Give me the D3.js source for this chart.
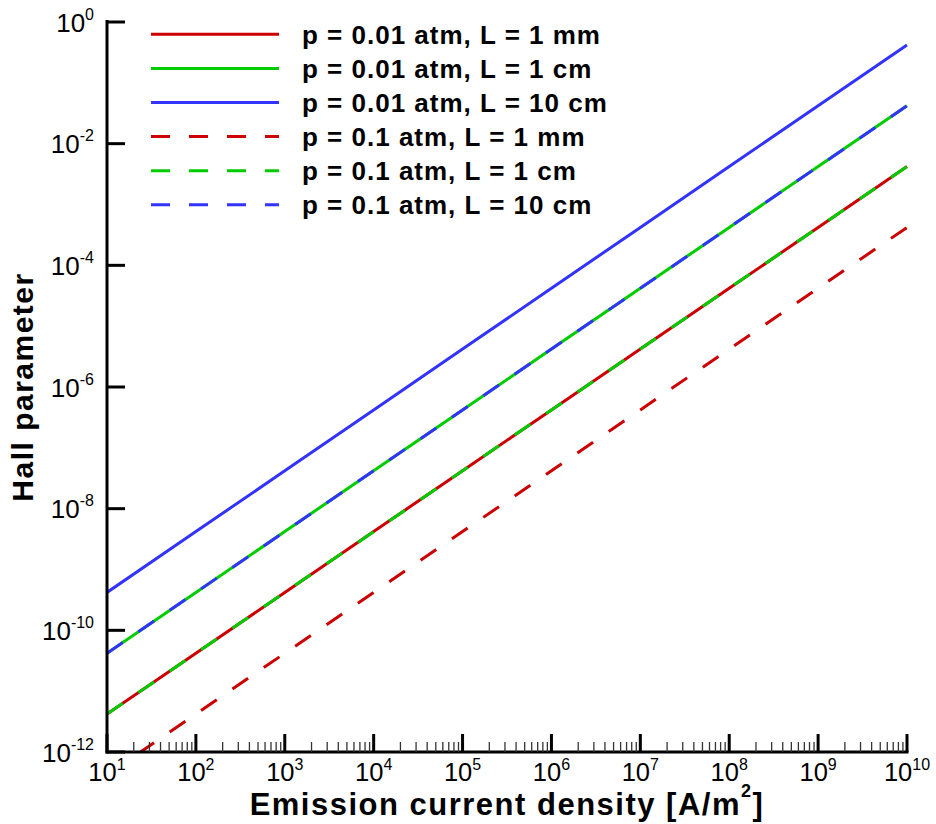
<!DOCTYPE html>
<html lang="en">

<head>
    <meta charset="UTF-8">
    <title>Hall parameter vs emission current density</title>
    <script src="https://d3js.org/d3.v7.min.js"></script>
    <style>
        body { margin: 0; background: #fff; }
        text { font-family: "Liberation Sans", Arial, Helvetica, sans-serif; fill: #000; }
    </style>
</head>

<body>
    <svg width="936" height="824"></svg>

    <script>
        // emission current density [A/m^2] at each decade
        const currentDensity = [1e1, 1e2, 1e3, 1e4, 1e5, 1e6, 1e7, 1e8, 1e9, 1e10];

        // Hall parameter
        const hallP001L1mm  = [4.2e-12, 4.2e-11, 4.2e-10, 4.2e-9, 4.2e-8, 4.2e-7, 4.2e-6, 4.2e-5, 4.2e-4, 4.2e-3];
        const hallP001L1cm  = [4.2e-11, 4.2e-10, 4.2e-9, 4.2e-8, 4.2e-7, 4.2e-6, 4.2e-5, 4.2e-4, 4.2e-3, 4.2e-2];
        const hallP001L10cm = [4.2e-10, 4.2e-9, 4.2e-8, 4.2e-7, 4.2e-6, 4.2e-5, 4.2e-4, 4.2e-3, 4.2e-2, 4.2e-1];
        const hallP01L1mm   = [4.2e-13, 4.2e-12, 4.2e-11, 4.2e-10, 4.2e-9, 4.2e-8, 4.2e-7, 4.2e-6, 4.2e-5, 4.2e-4];
        const hallP01L1cm   = [4.2e-12, 4.2e-11, 4.2e-10, 4.2e-9, 4.2e-8, 4.2e-7, 4.2e-6, 4.2e-5, 4.2e-4, 4.2e-3];
        const hallP01L10cm  = [4.2e-11, 4.2e-10, 4.2e-9, 4.2e-8, 4.2e-7, 4.2e-6, 4.2e-5, 4.2e-4, 4.2e-3, 4.2e-2];

        const seriesNames = [
            "p = 0.01 atm, L = 1 mm", "p = 0.01 atm, L = 1 cm", "p = 0.01 atm, L = 10 cm",
            "p = 0.1 atm, L = 1 mm", "p = 0.1 atm, L = 1 cm", "p = 0.1 atm, L = 10 cm"
        ];
        const seriesValues = [hallP001L1mm, hallP001L1cm, hallP001L10cm, hallP01L1mm, hallP01L1cm, hallP01L10cm];

        const xExponents = [1, 2, 3, 4, 5, 6, 7, 8, 9, 10];
        const yExponents = [0, -2, -4, -6, -8, -10, -12];

        const red = "#cc0000", green = "#00cc00", blue = "#3333ff";
        const colors = [red, green, blue, red, green, blue];
        const dashes = [null, null, null, "19,19", "19,19", "19,19"];

        const svg = d3.select("svg");
        const plotLeft = 107, plotRight = 907, plotTop = 22, plotBottom = 752;

        const x = d3.scaleLog().domain([1e1, 1e10]).range([plotLeft, plotRight]);
        const y = d3.scaleLog().domain([1e-12, 1]).range([plotBottom, plotTop]);

        svg.append("clipPath").attr("id", "plot-clip")
            .append("rect")
            .attr("x", plotLeft).attr("y", plotTop - 5)
            .attr("width", plotRight - plotLeft + 5).attr("height", plotBottom - plotTop + 5);

        // curves
        const line = d3.line()
            .x(d => x(d[0]))
            .y(d => y(d[1]));

        const curves = svg.append("g").attr("clip-path", "url(#plot-clip)");
        seriesValues.forEach((vals, i) => {
            curves.append("path")
                .attr("d", line(currentDensity.map((c, k) => [c, vals[k]])))
                .attr("fill", "none")
                .attr("stroke", colors[i])
                .attr("stroke-width", 3)
                .attr("stroke-dasharray", dashes[i]);
        });

        // axis lines
        svg.append("line")
            .attr("x1", plotLeft).attr("x2", plotLeft)
            .attr("y1", plotTop - 2).attr("y2", plotBottom + 1.5)
            .attr("stroke", "#000").attr("stroke-width", 3);
        svg.append("line")
            .attr("x1", plotLeft - 1.5).attr("x2", plotRight + 1.5)
            .attr("y1", plotBottom).attr("y2", plotBottom)
            .attr("stroke", "#000").attr("stroke-width", 3);

        // x minor ticks
        const minorX = [];
        xExponents.slice(0, -1).forEach(e => {
            for (let m = 2; m <= 9; m++) minorX.push(m * Math.pow(10, e));
        });
        svg.append("g").selectAll("line")
            .data(minorX)
            .enter().append("line")
            .attr("x1", d => x(d)).attr("x2", d => x(d))
            .attr("y1", plotBottom).attr("y2", plotBottom - 10)
            .attr("stroke", "#333").attr("stroke-width", 1.3);

        // x major ticks + labels
        const xTicks = svg.append("g").selectAll("g")
            .data(xExponents)
            .enter().append("g");
        xTicks.append("line")
            .attr("x1", d => x(Math.pow(10, d))).attr("x2", d => x(Math.pow(10, d)))
            .attr("y1", plotBottom).attr("y2", plotBottom - 18)
            .attr("stroke", "#000").attr("stroke-width", 3);
        const xLab = xTicks.append("text")
            .attr("x", d => x(Math.pow(10, d)))
            .attr("y", 780.5)
            .attr("text-anchor", "middle")
            .style("font-size", "25.5px");
        xLab.append("tspan").text("10");
        xLab.append("tspan").attr("dy", -11).style("font-size", "16px").text(d => d);

        // y major ticks + labels
        const yTicks = svg.append("g").selectAll("g")
            .data(yExponents)
            .enter().append("g");
        yTicks.append("line")
            .attr("x1", plotLeft).attr("x2", plotLeft + 18)
            .attr("y1", d => y(Math.pow(10, d))).attr("y2", d => y(Math.pow(10, d)))
            .attr("stroke", "#000").attr("stroke-width", 3);
        const yLab = yTicks.append("text")
            .attr("x", 94)
            .attr("y", d => y(Math.pow(10, d)) + 9.5)
            .attr("text-anchor", "end")
            .style("font-size", "26px");
        yLab.append("tspan").text("10");
        yLab.append("tspan").attr("dy", -12).style("font-size", "16px").text(d => d === 0 ? "0" : "-" + (-d));

        // axis titles
        const xTitle = svg.append("text")
            .attr("x", 507).attr("y", 815)
            .attr("text-anchor", "middle")
            .style("font-size", "31px").style("font-weight", "bold")
            .style("letter-spacing", "1.5px");
        xTitle.append("tspan").text("Emission current density [A/m");
        xTitle.append("tspan").attr("dy", -18).style("font-size", "18px").text("2");
        xTitle.append("tspan").attr("dy", 18).text("]");

        svg.append("text")
            .attr("transform", "translate(33,387) rotate(-90)")
            .attr("text-anchor", "middle")
            .style("font-size", "30px").style("font-weight", "bold")
            .style("letter-spacing", "1.5px")
            .text("Hall parameter");

        // legend
        const legend = svg.append("g").selectAll("g")
            .data(seriesNames)
            .enter().append("g")
            .attr("transform", (d, i) => `translate(151,${34.3 + i * 34.1})`);
        legend.append("line")
            .attr("x1", 0).attr("x2", 128)
            .attr("stroke", (d, i) => colors[i])
            .attr("stroke-width", 3)
            .attr("stroke-dasharray", (d, i) => dashes[i]);
        legend.append("text")
            .attr("x", 151)
            .attr("y", 9.3)
            .style("font-size", "26px").style("font-weight", "bold")
            .style("letter-spacing", "1px")
            .text(d => d);
    </script>
</body>

</html>
